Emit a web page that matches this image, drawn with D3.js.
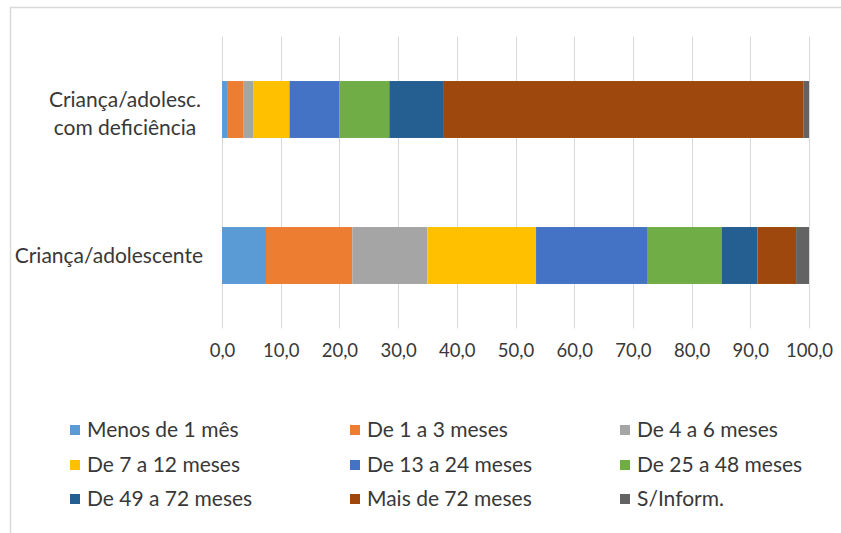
<!DOCTYPE html>
<html>
<head>
<meta charset="utf-8">
<script src="https://cdn.jsdelivr.net/npm/d3@7"></script>
<style>
  body { margin: 0; background: #fff; }
  svg { display: block; font-family: Lato, "Open Sans", sans-serif; }
</style>
</head>
<body>
<svg id="chart"></svg>
<script>
const categories = ['Criança/adolesc. com deficiência', 'Criança/adolescente'];
const seriesNames = ['Menos de 1 mês', 'De 1 a 3 meses', 'De 4 a 6 meses',
  'De 7 a 12 meses', 'De 13 a 24 meses', 'De 25 a 48 meses',
  'De 49 a 72 meses', 'Mais de 72 meses', 'S/Inform.'];
// percentuais por categoria, na ordem de seriesNames
const deficienciaValues = [1.0, 2.7, 1.6, 6.2, 8.5, 8.5, 9.3, 61.3, 0.9];
const geralValues = [7.5, 14.7, 12.8, 18.5, 18.9, 12.7, 6.1, 6.6, 2.2];
const tickValues = [0, 10, 20, 30, 40, 50, 60, 70, 80, 90, 100];
const colors = ['#5B9BD5', '#ED7D31', '#A5A5A5', '#FFC000', '#4472C4',
  '#70AD47', '#255E91', '#9E480E', '#636363'];

const W = 841, H = 533;
const plot = { left: 222, right: 809, top: 36.5, bottom: 328.5 };
const textColor = '#383838';

const svg = d3.select('#chart').attr('width', W).attr('height', H);

// moldura do gráfico
svg.append('rect')
  .attr('x', 10.5).attr('y', 7.5)
  .attr('width', W + 10).attr('height', H + 10)
  .attr('fill', '#fff')
  .attr('stroke', '#d9d9d9')
  .attr('stroke-width', 1.5);

const rows = categories.map((c, i) => {
  const vals = i === 0 ? deficienciaValues : geralValues;
  const r = { cat: c };
  seriesNames.forEach((s, j) => { r[s] = vals[j]; });
  return r;
});

const x = d3.scaleLinear().domain([0, 100]).range([plot.left, plot.right]);
const y = d3.scaleBand()
  .domain(categories)
  .range([plot.top, plot.bottom])
  .paddingInner(0.61)
  .paddingOuter(0.305);
const color = d3.scaleOrdinal().domain(seriesNames).range(colors);

// grade vertical
svg.append('g')
  .attr('class', 'grid')
  .selectAll('line')
  .data(tickValues)
  .join('line')
  .attr('x1', d => Math.round(x(d)) + 0.5)
  .attr('x2', d => Math.round(x(d)) + 0.5)
  .attr('y1', plot.top)
  .attr('y2', plot.bottom)
  .attr('stroke', '#d9d9d9')
  .attr('stroke-width', 1);

// barras empilhadas
const stacked = d3.stack().keys(seriesNames)(rows);
svg.append('g')
  .selectAll('g')
  .data(stacked)
  .join('g')
  .attr('fill', d => color(d.key))
  .selectAll('rect')
  .data(d => d)
  .join('rect')
  .attr('x', d => x(d[0]))
  .attr('y', d => y(d.data.cat))
  .attr('width', d => x(d[1]) - x(d[0]))
  .attr('height', y.bandwidth());

// eixo x
const xAxis = svg.append('g')
  .attr('transform', `translate(0,${plot.bottom + 12})`)
  .call(d3.axisBottom(x).tickValues(tickValues).tickSize(0)
    .tickFormat(d => d3.format('.1f')(d).replace('.', ',')));
xAxis.select('.domain').remove();
xAxis.selectAll('text')
  .attr('font-family', 'Lato, "Open Sans", sans-serif')
  .attr('font-size', 18.5)
  .attr('fill', textColor);

// rótulos das categorias
const labelLines = {
  'Criança/adolesc. com deficiência': ['Criança/adolesc.', 'com deficiência'],
  'Criança/adolescente': ['Criança/adolescente']
};
categories.forEach(c => {
  const lines = labelLines[c];
  const cy = y(c) + y.bandwidth() / 2;
  const lx = lines.length > 1 ? 125 : 203;
  const t = svg.append('text')
    .attr('font-size', 21)
    .attr('fill', textColor)
    .attr('text-anchor', lines.length > 1 ? 'middle' : 'end')
    .attr('x', lx)
    .attr('y', cy - (lines.length - 1) * 10);
  lines.forEach((l, i) => {
    t.append('tspan')
      .attr('x', lx)
      .attr('dy', i === 0 ? '0.35em' : 28)
      .text(l);
  });
});

// legenda
const legendCols = [70, 350, 620];
const legendRows = [430, 465, 499];
const legend = svg.append('g')
  .selectAll('g')
  .data(seriesNames)
  .join('g')
  .attr('transform', (d, i) => `translate(${legendCols[i % 3]},${legendRows[Math.floor(i / 3)]})`);
legend.append('rect')
  .attr('x', 0).attr('y', -5)
  .attr('width', 10).attr('height', 10)
  .attr('fill', d => color(d));
legend.append('text')
  .attr('x', 17)
  .attr('dy', '0.35em')
  .attr('font-size', 21)
  .attr('fill', textColor)
  .text(d => d);
</script>
</body>
</html>
